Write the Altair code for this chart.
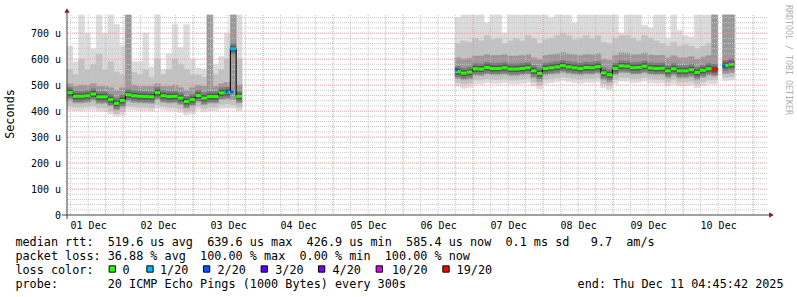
import altair as alt
import numpy as np
import pandas as pd

FONT = "DejaVu Sans Mono"

# ---------------- time axis: hours since 01 Dec 00:00 ----------------
t_start = 4.76          # 01 Dec 04:45:42
t_end = 244.76          # 11 Dec 04:45:42
step_hours = 2.0
day_labels = ["01 Dec", "02 Dec", "03 Dec", "04 Dec", "05 Dec",
              "06 Dec", "07 Dec", "08 Dec", "09 Dec", "10 Dec"]
label_hours = [12, 36, 60, 84, 108, 132, 156, 180, 204, 228]
y_max = 770
y_label_values = [0, 100, 200, 300, 400, 500, 600, 700]

# ---------------- loss colour categories ----------------
loss_labels = ["0", "1/20", "2/20", "3/20", "4/20", "10/20", "19/20"]
loss_colors = ["#26ff00", "#00b8ff", "#0059ff", "#5e00ff", "#7e00ff", "#dd00ff", "#ff0000"]

# ---------------- segment 1 (01 Dec 04:45 -> 03 Dec ~17:00) ----------------
seg1_start = 4.76
med_1 = [471, 457, 457, 459, 466, 455, 455, 444, 430, 441, 463, 459, 457, 456, 455,
         471, 459, 456, 457, 450, 437, 444, 460, 450, 456, 456, 470, 472, 640, 457]
loss_1 = ["0"] * 28 + ["1/20", "0"]
hi1_1 = [650, 590, 770, 700, 640, 770, 700, 770, 733, 650, 770, 590, 590, 700, 570,
         770, 560, 620, 733, 645, 733, 600, 565, 560, 770, 580, 610, 700, 770, 770]
hi2_1 = [560, 540, 600, 560, 580, 620, 560, 590, 550, 540, 560, 550, 540, 560, 530,
         600, 540, 560, 600, 580, 560, 540, 540, 530, 560, 540, 560, 600, 700, 600]
hi3_1 = [505, 495, 500, 500, 505, 495, 495, 490, 480, 490, 770, 500, 495, 495, 495,
         505, 495, 495, 500, 490, 480, 490, 500, 495, 770, 495, 505, 510, 770, 500]
lo3_1 = [440, 432, 432, 434, 440, 430, 430, 420, 405, 415, 438, 434, 432, 431, 430,
         445, 434, 431, 432, 425, 412, 420, 435, 425, 431, 431, 445, 447, 445, 432]
lo2_1 = [420, 415, 415, 418, 420, 412, 412, 400, 390, 398, 420, 418, 415, 415, 412,
         425, 418, 415, 415, 408, 398, 402, 418, 410, 415, 415, 425, 428, 425, 415]
lo1_1 = [405, 402, 402, 405, 405, 400, 398, 388, 380, 385, 405, 405, 402, 402, 400,
         410, 405, 402, 402, 395, 385, 390, 405, 398, 402, 402, 410, 412, 410, 402]

# ---------------- segment 2 (06 Dec ~17:45 -> 10 Dec ~11:45) ----------------
seg2_start = 137.79
med_2 = [552, 546, 550, 563, 562, 568, 564, 564, 567, 562, 562, 564, 567, 555, 545,
         564, 567, 570, 575, 570, 567, 564, 568, 567, 571, 547, 540, 564, 574, 573,
         567, 568, 573, 566, 564, 565, 555, 563, 555, 555, 559, 549, 557, 563, 560]
loss_2 = ["0"] * 44 + ["19/20"]
hi1_2 = [760, 770, 770, 770, 770, 740, 770, 770, 700, 770, 770, 770, 770, 770, 770,
         770, 760, 770, 770, 770, 740, 770, 770, 770, 770, 770, 770, 770, 700, 770,
         770, 770, 730, 720, 770, 770, 680, 770, 710, 690, 685, 770, 770, 770, 770]
hi2_2 = [660, 670, 665, 680, 670, 690, 675, 680, 660, 670, 680, 670, 690, 680, 660,
         675, 680, 690, 700, 690, 675, 680, 690, 680, 690, 665, 660, 680, 690, 690,
         680, 670, 690, 680, 670, 660, 650, 665, 650, 655, 650, 640, 650, 660, 770]
hi3_2 = [605, 600, 603, 612, 612, 618, 614, 614, 617, 612, 612, 614, 617, 605, 598,
         614, 617, 620, 625, 620, 617, 614, 618, 617, 621, 600, 595, 614, 624, 623,
         617, 618, 623, 616, 614, 615, 605, 613, 605, 605, 609, 600, 607, 613, 770]
lo3_2 = [525, 520, 523, 538, 537, 543, 539, 539, 542, 537, 537, 539, 542, 528, 515,
         539, 542, 545, 550, 545, 542, 539, 543, 542, 546, 520, 512, 539, 549, 548,
         542, 543, 548, 541, 539, 540, 528, 538, 528, 528, 532, 520, 530, 538, 535]
lo2_2 = [510, 505, 508, 520, 520, 525, 522, 522, 525, 520, 520, 522, 525, 512, 500,
         522, 525, 528, 532, 528, 525, 522, 526, 525, 528, 505, 498, 522, 530, 530,
         525, 526, 530, 524, 522, 522, 512, 520, 512, 512, 515, 505, 512, 520, 520]
lo1_2 = [495, 488, 492, 505, 505, 510, 507, 507, 510, 505, 505, 507, 510, 497, 485,
         507, 510, 513, 518, 513, 510, 507, 511, 510, 513, 490, 483, 507, 516, 515,
         510, 511, 516, 509, 507, 508, 497, 505, 497, 497, 500, 490, 497, 505, 505]

# ---------------- segment 3 (10 Dec ~13:30) ----------------
seg3_start = 229.56
med_3 = [576, 580]
loss_3 = ["0", "0"]
hi1_3 = [770, 770]
hi2_3 = [770, 770]
hi3_3 = [770, 770]
lo3_3 = [545, 548]
lo2_3 = [530, 532]
lo1_3 = [518, 520]

# ---------------- single loss-coloured samples ----------------
mark_hours = [59.6, 61.2, 138.3, 230.0, 232.1]
mark_values = [474, 474, 559, 574, 590]
mark_loss = ["2/20", "2/20", "2/20", "2/20", "10/20"]

# ---------------- texts ----------------
y_title = "Seconds"
stat_rtt = "median rtt:  519.6 us avg  639.6 us max  426.9 us min  585.4 us now  0.1 ms sd   9.7  am/s"
stat_loss = "packet loss: 36.88 % avg  100.00 % max  0.00 % min  100.00 % now"
loss_title = "loss color:"
probe_text = "probe:       20 ICMP Echo Pings (1000 Bytes) every 300s"
end_text = "end: Thu Dec 11 04:45:42 2025"
watermark = "RRDTOOL / TOBI OETIKER"


# ======================================================================
def seg_frame(k, start, med, loss, lo1, hi1, lo2, hi2, lo3, hi3):
    n = len(med)
    t0 = start + step_hours * np.arange(n)
    return pd.DataFrame(dict(seg=k, t0=t0, t1=t0 + step_hours, med=med, loss=loss,
                             lo1=lo1, hi1=hi1, lo2=lo2, hi2=hi2, lo3=lo3, hi3=hi3))


segs = pd.concat([
    seg_frame(1, seg1_start, med_1, loss_1, lo1_1, hi1_1, lo2_1, hi2_1, lo3_1, hi3_1),
    seg_frame(2, seg2_start, med_2, loss_2, lo1_2, hi1_2, lo2_2, hi2_2, lo3_2, hi3_2),
    seg_frame(3, seg3_start, med_3, loss_3, lo1_3, hi1_3, lo2_3, hi2_3, lo3_3, hi3_3),
], ignore_index=True)

# step line points (each segment closed with its last value at its end)
line_rows = []
for k, g in segs.groupby("seg"):
    for _, r in g.iterrows():
        line_rows.append(dict(seg=k, t=r.t0, v=r.med))
    last = g.iloc[-1]
    line_rows.append(dict(seg=k, t=last.t1, v=last.med))
line_df = pd.DataFrame(line_rows)

marks_df = pd.DataFrame(dict(t=mark_hours, v=mark_values, loss=mark_loss))

xs = alt.Scale(domain=[t_start, t_end], nice=False, zero=False)
ys = alt.Scale(domain=[0, y_max], nice=False, zero=True)
lab_arr = "[" + ",".join("'%s'" % d for d in day_labels) + "]"
x_axis = alt.Axis(values=label_hours, labelExpr=lab_arr + "[floor(datum.value/24)]",
                  title=None, grid=False, ticks=False, tickSize=0, domain=False,
                  labelFont=FONT, labelFontSize=10, labelColor="#000000",
                  labelPadding=13.4, labelBaseline="alphabetic", labelOverlap=False,
                  labelFlush=False)
y_axis = alt.Axis(values=y_label_values,
                  labelExpr="datum.value == 0 ? '0\u00a0\u00a0' : datum.value + '\u00a0u'",
                  title=None, grid=False, ticks=False, tickSize=0, domain=False,
                  labelFont=FONT, labelFontSize=10, labelColor="#000000",
                  labelPadding=6.5, labelBaseline="middle", labelOverlap=False)
cscale = alt.Scale(domain=loss_labels, range=loss_colors)


def band(lo, hi, col):
    return alt.Chart(segs).mark_rect(color=col, stroke=col, strokeWidth=0.6).encode(
        x=alt.X("t0:Q", scale=xs, axis=x_axis), x2="t1:Q",
        y=alt.Y(lo + ":Q", scale=ys, axis=y_axis), y2=hi + ":Q")


band1 = band("lo1", "hi1", "#dcdcdc")
band2 = band("lo2", "hi2", "#c2c2c2")
band3 = band("lo3", "hi3", "#999999")

# grid lines (from scale values)
h_minor = pd.DataFrame({"v": [v for v in range(20, y_max + 1, 20) if v % 100]})
h_major = pd.DataFrame({"v": [v for v in range(100, y_max + 1, 100)]})
v_minor = pd.DataFrame({"t": [h for h in range(6, 245, 6) if h % 24 and t_start < h < t_end]})
v_major = pd.DataFrame({"t": [h for h in range(24, 245, 24) if t_start < h < t_end]})
gcol, mcol = "#c4c4c4", "#e39a9a"
g1 = alt.Chart(h_minor).mark_rule(color=gcol, strokeDash=[1, 1], strokeWidth=1).encode(
    y=alt.Y("v:Q", scale=ys, axis=y_axis))
g2 = alt.Chart(v_minor).mark_rule(color=gcol, strokeDash=[1, 1], strokeWidth=1).encode(
    x=alt.X("t:Q", scale=xs, axis=x_axis))
g3 = alt.Chart(h_major).mark_rule(color=mcol, strokeDash=[1, 1], strokeWidth=1).encode(
    y=alt.Y("v:Q", scale=ys, axis=y_axis))
g4 = alt.Chart(v_major).mark_rule(color=mcol, strokeDash=[1, 1], strokeWidth=1).encode(
    x=alt.X("t:Q", scale=xs, axis=x_axis))


def core(width, col):
    return alt.Chart(segs).mark_rule(strokeWidth=width, color=col).encode(
        x=alt.X("t0:Q", scale=xs, axis=x_axis), x2="t1:Q",
        y=alt.Y("med:Q", scale=ys, axis=y_axis))


core1 = core(11, "#7c7c7c")
core2 = core(6, "#555555")

black_line = alt.Chart(line_df).mark_line(interpolate="step-after", color="#000000",
                                          strokeWidth=1).encode(
    x=alt.X("t:Q", scale=xs, axis=x_axis), y=alt.Y("v:Q", scale=ys, axis=y_axis),
    detail="seg:N")

median = alt.Chart(segs).mark_rule(strokeWidth=3).encode(
    x=alt.X("t0:Q", scale=xs, axis=x_axis), x2="t1:Q",
    y=alt.Y("med:Q", scale=ys, axis=y_axis),
    color=alt.Color("loss:N", scale=cscale, legend=None))

loss_marks = alt.Chart(marks_df).mark_square(size=9, opacity=1, filled=True).encode(
    x=alt.X("t:Q", scale=xs, axis=x_axis), y=alt.Y("v:Q", scale=ys, axis=y_axis),
    color=alt.Color("loss:N", scale=cscale, legend=None))

one = pd.DataFrame({"k": [0]})
OX, OY = 67, 15  # plot origin in page pixels
axis_col = "#404040"
arrow_col = "#8b1c1c"
y_line = alt.Chart(one).mark_rule(color=axis_col, strokeWidth=1).encode(
    x=alt.value(0), y=alt.value(-3), y2=alt.value(204))
x_line = alt.Chart(one).mark_rule(color=axis_col, strokeWidth=1).encode(
    x=alt.value(-5), x2=alt.value(703), y=alt.value(200))
y_arrow = alt.Chart(one).mark_point(shape="triangle-up", filled=True, size=28,
                                    color=arrow_col, opacity=1).encode(
    x=alt.value(0), y=alt.value(-4.5))
x_arrow = alt.Chart(one).mark_point(shape="triangle-right", filled=True, size=28,
                                    color=arrow_col, opacity=1).encode(
    x=alt.value(704.5), y=alt.value(200))


def text(txt, x, y, size=11.8, color="#000000", angle=0, align="left",
         baseline="alphabetic"):
    kw = dict(text=txt.replace(" ", "\u00a0"), font=FONT, fontSize=size, color=color,
              align=align, baseline=baseline)
    if angle:
        kw["angle"] = angle
    return alt.Chart(one).mark_text(**kw).encode(x=alt.value(x - OX), y=alt.value(y - OY))


texts = [
    text(y_title, 10, 114, angle=270, align="center", baseline="middle"),
    text(watermark, 788, 60, size=8.3, color="#b0b0b0", angle=90, align="center",
         baseline="middle"),
    text(stat_rtt, 15.4, 245.8),
    text(stat_loss, 15.4, 259.6),
    text(loss_title, 15.4, 273.6),
    text(probe_text, 15.4, 287.6),
    text(end_text, 577.6, 287.6),
]

sq_left = [109, 146.7, 203.3, 261, 318.3, 376, 442.7]
lab_left = [122.5, 160, 217.5, 275.2, 332.5, 392, 456.6]
legend_layers = []
for lab, col, sx, lx in zip(loss_labels, loss_colors, sq_left, lab_left):
    legend_layers.append(
        alt.Chart(one).mark_point(shape="square", filled=True, size=40, fill=col,
                                  stroke="#000000", strokeWidth=1, opacity=1).encode(
            x=alt.value(sx + 3.3 - OX), y=alt.value(269 - OY)))
    legend_layers.append(text(lab, lx, 273.6))

chart = alt.layer(
    band1, band2, band3, g1, g2, g3, g4, core1, core2, black_line, median, loss_marks,
    y_line, x_line, y_arrow, x_arrow, *texts, *legend_layers
).properties(
    width=700, height=200,
    padding={"left": OX, "top": OY, "right": 30, "bottom": 82},
    autosize=alt.AutoSizeParams(type="none"),
    background="#ffffff",
).configure_view(stroke=None)

chart.save("out.html", embed_options={"renderer": "svg", "actions": False})
